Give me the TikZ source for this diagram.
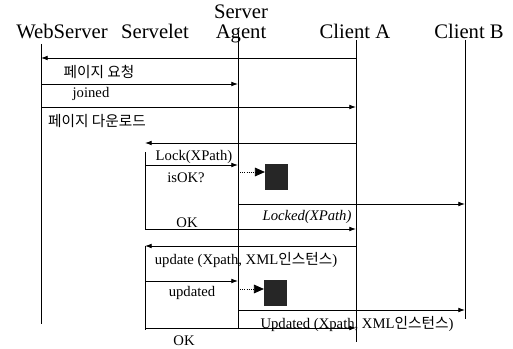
\documentclass[tikz,border=0pt]{standalone}
\usepackage{fontspec}
\setmainfont{Liberation Serif}
\newfontfamily\kr{Noto Sans CJK KR}
\usetikzlibrary{arrows.meta}
\begin{document}
\begin{tikzpicture}[x=0.75pt,y=-0.75pt,
  actor/.style={font=\fontsize{15.5}{15.5}\selectfont,align=center,inner sep=0pt},
  lbl/.style={font=\fontsize{11}{12}\selectfont,inner sep=0pt},
  life/.style={line width=0.6pt},
  msg/.style={line width=0.6pt,-{Latex[length=5pt,width=3.5pt]}},
  chk/.style={densely dotted,line width=0.6pt,-{Triangle[length=7.5pt,width=6.5pt]}},
  blk/.style={fill=black!85,minimum width=17pt,minimum height=19pt,inner sep=0pt}]
  \useasboundingbox (0,0) rectangle (513,349);
  \node[actor] (ws) at (62,31) {WebServer};
  \node[actor] (sv) at (155,31) {Servelet};
  \node[actor] (sa) at (241,24) {Server\\Agent};
  \node[actor] (ca) at (355,31) {Client A};
  \node[actor] (cb) at (469,31) {Client B};
  \coordinate (wsT) at (41,44);  \coordinate (wsB) at (41,324);
  \coordinate (svT) at (145,152); \coordinate (svB) at (145,330);
  \coordinate (saT) at (238,33); \coordinate (saB) at (238,329);
  \coordinate (caT) at (356,40); \coordinate (caB) at (356,342);
  \coordinate (cbT) at (465,40); \coordinate (cbB) at (465,319);
  \foreach \n/\y in {1/58,2/84,3/107,4/143,5/165,6/204,7/229,8/246,9/281,10/310,11/328}
    \coordinate (r\n) at (0,\y);
  \draw[life] (wsT) -- (wsB);
  \draw[life] (saT) -- (saB);
  \draw[life] (caT) -- (caB);
  \draw[life] (cbT) -- (cbB);
  \draw[life] (svT) -- (svT |- r7);
  \draw[life] (svT |- r8) -- (svB);
  \draw[msg] (caT |- r1) -- (wsT |- r1);
  \draw[msg] (wsT |- r2) -- (saT |- r2);
  \draw[msg] (wsT |- r3) -- (caT |- r3);
  \draw[msg] (caT |- r4) -- (svT |- r4);
  \draw[msg] (svT |- r5) -- (saT |- r5);
  \draw[msg] (saT |- r6) -- (cbT |- r6);
  \draw[msg] (svT |- r7) -- (caT |- r7);
  \draw[msg] (caT |- r8) -- (svT |- r8);
  \draw[msg] (svT |- r9) -- (saT |- r9);
  \draw[msg] (saT |- r10) -- (cbT |- r10);
  \draw[msg] (svT |- r11) -- (caT |- r11);
  \node[lbl] (l1) at (99,72) {\kr 페이지 요청};
  \node[lbl] (l2) at (91,94) {joined};
  \node[lbl] (l3) at (97,121) {\kr 페이지 다운로드};
  \node[lbl] (l4) at (194,157) {Lock(XPath)};
  \node[lbl] (l5) at (186,178) {isOK?};
  \node[lbl] (l6) at (307,217) {\itshape Locked(XPath)};
  \node[lbl] (l7) at (187,223) {OK};
  \node[lbl] (l8) at (246,260) {update (Xpath, XML{\kr 인스턴스})};
  \node[lbl] (l9) at (192,293) {updated};
  \node[lbl] (l10) at (357,324) {Updated (Xpath, XML{\kr 인스턴스})};
  \node[lbl] (l11) at (184,341) {OK};
  \node[blk] (b1) at (276.5,177) {};
  \node[blk] (b2) at (275.5,293) {};
  \coordinate (c1) at (0,172);
  \coordinate (c2) at (0,289);
  \draw[chk] (saT |- c1) -- (b1.west |- c1);
  \draw[chk] (saT |- c2) -- (b2.west |- c2);
\end{tikzpicture}
\end{document}
